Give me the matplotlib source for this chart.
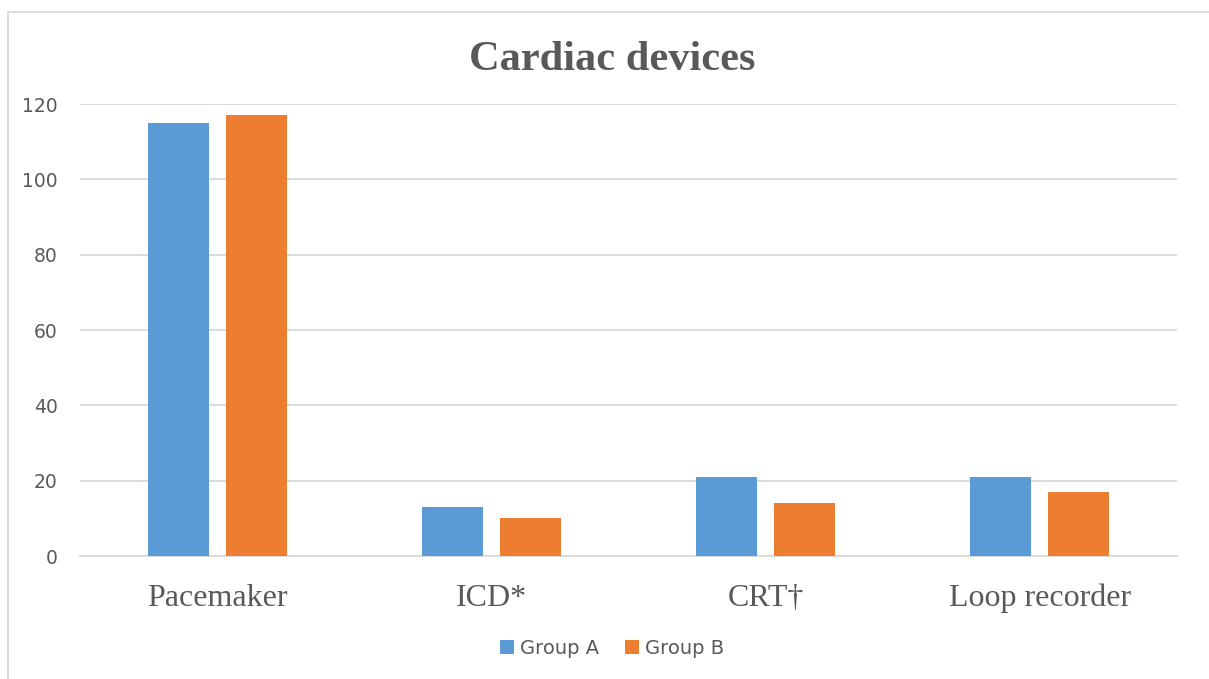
import matplotlib.pyplot as plt
import numpy as np

categorias = ["Pacemaker", "ICD*", "CRT†", "Loop recorder"]
grupo_a = [115, 13, 21, 21]
grupo_b = [117, 10, 14, 17]
yticks = [0, 20, 40, 60, 80, 100, 120]

azul = "#5B9BD5"
naranja = "#ED7D31"
gris_texto = "#595959"
gris_linea = "#D9D9D9"

fig = plt.figure(figsize=(12.09, 6.79), dpi=100)
ax = fig.add_axes([80 / 1209, 1 - 556 / 679, 1097 / 1209, 452 / 679])

x = np.arange(len(categorias))
ancho = 0.222
ax.bar(x - 0.142, grupo_a, ancho, color=azul, label="Group A", zorder=3)
ax.bar(x + 0.142, grupo_b, ancho, color=naranja, label="Group B", zorder=3)

ax.set_xlim(-0.5, 3.5)
ax.set_ylim(0, 120)
ax.set_yticks(yticks)
ax.grid(axis="y", color=gris_linea, linewidth=1.3, zorder=0)
for s in ["top", "right", "left"]:
    ax.spines[s].set_visible(False)
ax.spines["bottom"].set_color(gris_linea)
ax.spines["bottom"].set_linewidth(1.3)

ax.tick_params(axis="both", length=0)
ax.tick_params(axis="y", labelsize=13.5, labelcolor=gris_texto, pad=16)
ax.set_xticks(x)
ax.set_xticklabels(categorias, fontfamily="Liberation Serif", fontsize=23, color=gris_texto)
ax.tick_params(axis="x", pad=20)

fig.text(612 / 1209, 1 - 60 / 679, "Cardiac devices", ha="center", va="center",
         fontfamily="Liberation Serif", fontweight="bold", fontsize=30.5, color=gris_texto)

leg = fig.legend(loc="center", bbox_to_anchor=(612 / 1209, 1 - 648 / 679), ncol=2,
                 frameon=False, fontsize=14, handlelength=0.75, handleheight=0.75,
                 handletextpad=0.3, columnspacing=1.3)
for t in leg.get_texts():
    t.set_color(gris_texto)

# marco del gráfico (solo arriba e izquierda visibles)
fig.add_artist(plt.Line2D([8 / 1209, 1], [1 - 12 / 679, 1 - 12 / 679], color=gris_linea, linewidth=1.3))
fig.add_artist(plt.Line2D([8 / 1209, 8 / 1209], [0, 1 - 12 / 679], color=gris_linea, linewidth=1.3))

fig.savefig("out.png", dpi=100)
